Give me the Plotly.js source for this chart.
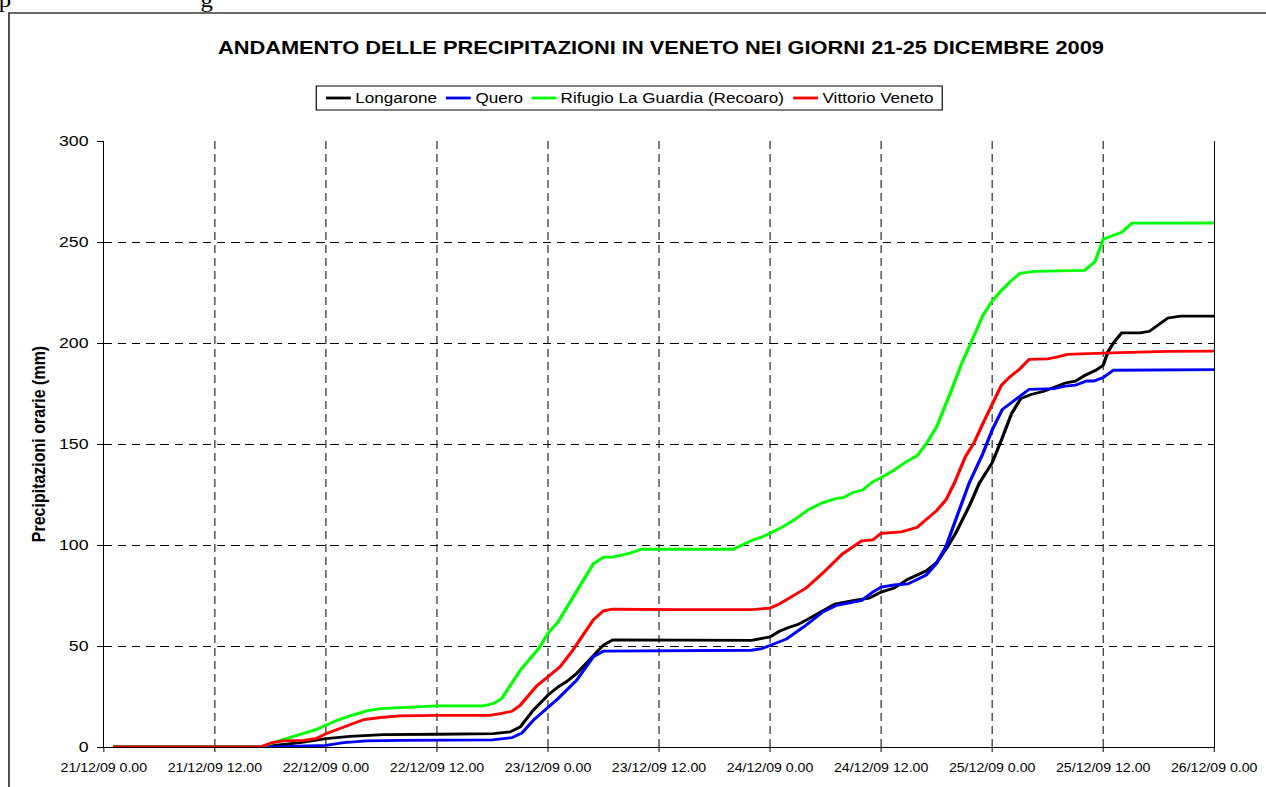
<!DOCTYPE html>
<html>
<head>
<meta charset="utf-8">
<script src="https://cdn.plot.ly/plotly-3.0.1.min.js"></script>
<style>
  html, body { margin: 0; padding: 0; background: #ffffff; overflow: hidden; }
  #wrap { position: absolute; left: 0; top: 0; width: 1073px; height: 787px; transform: scaleX(1.18); transform-origin: 0 0; }
  #chart { width: 1073px; height: 787px; }
</style>
</head>
<body>
<div id="wrap"><div id="chart"></div></div>
<script>
// ---- data (hours from 21/12/09 0.00, cumulative mm) ----
const tickHours = [0, 12, 24, 36, 48, 60, 72, 84, 96, 108, 120];
const tickLabels = ['21/12/09 0.00', '21/12/09 12.00', '22/12/09 0.00', '22/12/09 12.00', '23/12/09 0.00',
  '23/12/09 12.00', '24/12/09 0.00', '24/12/09 12.00', '25/12/09 0.00', '25/12/09 12.00', '26/12/09 0.00'];

const longaroneHours = [1, 17, 21.2, 24, 26.6, 30.2, 36, 42.1, 43.9, 45, 46.4, 48, 49.1, 50, 51.1, 52.9, 54, 55, 62, 70,
  72, 73, 74, 75, 76.1, 77.7, 79, 81.1, 82.7, 84, 85.4, 86.9, 88.9, 90, 91.2, 92.1, 93.5, 94.6, 96, 97, 98.1, 99.1,
  100.2, 101.6, 102.7, 103.9, 105, 106, 107.2, 108, 108.5, 109.1, 110, 112, 113, 115, 116.4, 120];
const longaroneMm = [0, 0, 2.2, 4.1, 5.3, 6.1, 6.3, 6.6, 7.5, 9.9, 18.2, 25.7, 29.8, 32.3, 36.4, 45.5, 50.5, 53, 52.8, 52.8,
  54.5, 57.3, 59.2, 60.6, 63.3, 67.6, 70.8, 72.6, 73.7, 76.7, 78.7, 83.1, 87.2, 91.3, 99.2, 106.2, 119, 130.5, 140.7, 151.9, 165.1, 172.5,
  174.5, 176.1, 177.9, 180.2, 181.1, 183.9, 186.5, 189, 195.5, 200, 205, 205, 205.8, 212.4, 213.3, 213.3];

const queroHours = [1, 19, 21, 24, 25.9, 28.4, 32, 42, 44.1, 45.2, 46.4, 48, 49.1, 51.1, 52.9, 54, 62, 70, 71.1,
  72, 73.8, 75.7, 77.7, 79.2, 81.9, 83.1, 84, 85.4, 86.9, 88.9, 90, 91, 92.1, 93.5, 95, 96, 97.1, 98.9, 100,
  102.7, 103.9, 105, 106.2, 107, 108, 109.1, 120];
const queroMm = [0, 0, 0.4, 0.8, 2.2, 3, 3.3, 3.5, 4.6, 7, 13.2, 19.9, 24, 33.1, 44.7, 47.5, 47.6, 47.9, 48.7,
  50.2, 53.5, 59.7, 66.8, 70.1, 72.6, 76.7, 79.2, 80.2, 80.7, 85.2, 91, 99.2, 113.2, 130.5, 145.3, 156.9, 167.1, 173.3, 177.1,
  177.4, 178.6, 179.1, 181.2, 181.2, 182.9, 186.5, 186.8];

const guardiaHours = [1, 16.9, 19.1, 21.2, 22.9, 24, 25.2, 26.6, 28.4, 29.9, 36, 41, 42.1, 43, 45, 47, 48, 49.1, 50.4, 51.6,
  52.9, 54, 55, 56.9, 58.1, 62, 68, 70, 71.1, 72, 73.4, 74.6, 76.1, 77.7, 79.2, 80, 80.9, 82, 83.1, 84, 85.4, 86.7,
  87.9, 88.9, 90, 91.6, 92.7, 93.9, 95, 96, 97, 98.1, 99, 100.6, 106, 107.1, 108, 108.9, 110, 111.1, 120];
const guardiaMm = [0, 0, 3.3, 6.1, 8.6, 10.8, 13.2, 15.4, 17.9, 19, 20.4, 20.4, 21.5, 24, 38, 48.8, 56.3, 62, 72, 81,
  90.7, 94, 94, 96, 98, 97.9, 97.9, 102.2, 103.9, 105.8, 109.1, 112.4, 117.4, 121, 123.1, 123.6, 125.9, 127.2, 131.3, 133.3, 137.1, 141.2,
  144.2, 150.3, 158.5, 176.6, 189.8, 202.1, 213.7, 220.7, 226, 231, 234.5, 235.5, 236, 240.2, 251.3, 253, 254.8, 259.3, 259.4];

const vittorioHours = [1, 16.9, 18.2, 19.4, 21.6, 22.9, 24, 25.9, 28.1, 29.9, 32, 36, 41.7, 43, 44.1, 45, 46.8, 48, 49.3,
  50.7, 52.9, 54, 55, 62, 70, 72, 73, 74.2, 75.9, 77.7, 79.8, 81.9, 83.1, 84, 86.2, 87.9, 90, 91, 91.9, 93.1, 94.1,
  95, 96, 97, 97.9, 98.9, 100, 102, 103.1, 104.1, 108, 114.8, 120];
const vittorioMm = [0, 0, 2.2, 3, 3.3, 4.1, 6.6, 9.9, 13.6, 14.6, 15.4, 15.7, 15.7, 16.6, 17.7, 20.7, 30.3, 34.8, 39.7,
  48, 63, 67.4, 68.2, 68, 68, 68.8, 70.8, 74.1, 78.7, 86.1, 95.5, 102, 102.5, 105.8, 106.5, 108.8, 117, 122.3, 130.5, 143.7, 151.1,
  160.2, 169.2, 179.1, 183.2, 186.8, 191.9, 192.1, 193.1, 194.4, 195, 195.9, 196];

const seriesNames = ['Longarone', 'Quero', 'Rifugio La Guardia (Recoaro)', 'Vittorio Veneto'];
const seriesColors = ['#000000', '#0000ff', '#00ff00', '#ff0000'];
const seriesX = [longaroneHours, queroHours, guardiaHours, vittorioHours];
const seriesY = [longaroneMm, queroMm, guardiaMm, vittorioMm];

const FONT = '"Liberation Sans", Arial, sans-serif';
const W = 1073, H = 787, ML = 88, MR = 44, MT = 141, MB = 40;
const PW = W - ML - MR, PH = H - MT - MB;
const px2x = (X) => (X - ML) / PW;        // page px (unstretched) -> paper x
const px2y = (Y) => (H - MB - Y) / PH;    // page px -> paper y

const traces = seriesNames.map((n, i) => ({
  type: 'scatter', mode: 'lines', name: n,
  x: seriesX[i], y: seriesY[i],
  line: { color: seriesColors[i], width: 2.8, shape: 'linear' },
  showlegend: false
}));

// ---- legend drawn as a boxed row (line sample + label) ----
const LEG_FONT = 14.5;
const ctx = document.createElement('canvas').getContext('2d');
ctx.font = LEG_FONT + 'px "Liberation Sans", Arial';
const textW = seriesNames.map(n => ctx.measureText(n).width);
const boxL = 268, boxR = 798.5, boxT = 86, boxB = 110, rowY = 98;
const lineLen = 21, txtGap = 3;
const content = textW.reduce((a, w) => a + w + lineLen + txtGap, 0);
const seg = ((boxR - boxL) - content) / 5;
const shapes = [
  { type: 'rect', xref: 'paper', yref: 'paper', x0: px2x(7.6), x1: 1.2, y0: -0.3, y1: px2y(13),
    line: { color: '#3a3a3a', width: 1.5 }, fillcolor: 'rgba(0,0,0,0)', layer: 'below' },
  { type: 'rect', xref: 'paper', yref: 'paper', x0: px2x(boxL), x1: px2x(boxR), y0: px2y(boxB), y1: px2y(boxT),
    line: { color: '#000000', width: 1 }, fillcolor: '#ffffff' }
];
const annotations = [];
let cx = boxL + seg;
seriesNames.forEach((n, i) => {
  shapes.push({ type: 'line', xref: 'paper', yref: 'paper', x0: px2x(cx), x1: px2x(cx + lineLen),
    y0: px2y(rowY), y1: px2y(rowY), line: { color: seriesColors[i], width: 2.8 } });
  annotations.push({ xref: 'paper', yref: 'paper', x: px2x(cx + lineLen + txtGap), y: px2y(rowY),
    xanchor: 'left', yanchor: 'middle', showarrow: false, borderpad: 0, text: n,
    font: { family: FONT, size: LEG_FONT, color: '#000000' } });
  cx += lineLen + txtGap + textW[i] + seg;
});
// cropped document text fragments above the chart frame
annotations.push(
  { xref: 'paper', yref: 'paper', x: px2x(-2), y: px2y(-13), xanchor: 'left', yanchor: 'top', showarrow: false, borderpad: 0,
    text: 'p', font: { family: '"Liberation Serif", "Times New Roman", serif', size: 21, color: '#000000' } },
  { xref: 'paper', yref: 'paper', x: px2x(169), y: px2y(-13), xanchor: 'left', yanchor: 'top', showarrow: false, borderpad: 0,
    text: 'g', font: { family: '"Liberation Serif", "Times New Roman", serif', size: 21, color: '#000000' } }
);

const layout = {
  width: W, height: H,
  margin: { l: ML, r: MR, t: MT, b: MB, pad: 0 },
  paper_bgcolor: '#ffffff', plot_bgcolor: '#ffffff',
  font: { family: FONT, color: '#000000' },
  title: {
    text: 'ANDAMENTO DELLE PRECIPITAZIONI IN VENETO NEI GIORNI 21-25 DICEMBRE 2009',
    font: { family: FONT, size: 18.5, weight: 'bold', color: '#000000' },
    xref: 'container', x: 0.522, xanchor: 'center',
    yref: 'container', y: 0.939, yanchor: 'middle'
  },
  showlegend: false,
  xaxis: {
    range: [0, 120], tickmode: 'array', tickvals: tickHours, ticktext: tickLabels,
    tickfont: { family: FONT, size: 12, color: '#000000' },
    ticks: 'outside', ticklen: 4, tickcolor: '#000000', tickwidth: 0.85,
    showline: true, linecolor: '#000000', linewidth: 1,
    showgrid: true, gridcolor: '#000000', gridwidth: 0.85, griddash: '8px,5px',
    zeroline: false, fixedrange: true, ticklabelstandoff: 6
  },
  yaxis: {
    range: [0, 300], dtick: 50, tick0: 0,
    tickfont: { family: FONT, size: 15, color: '#000000' },
    ticks: 'outside', ticklen: 5, tickcolor: '#000000', tickwidth: 1,
    showline: true, mirror: true, linecolor: '#000000', linewidth: 1,
    showgrid: true, gridcolor: '#000000', gridwidth: 1, griddash: '7px,5px',
    zeroline: false, fixedrange: true, ticklabelstandoff: 4,
    title: { text: 'Precipitazioni orarie (mm)', font: { family: FONT, size: 16, weight: 'bold', color: '#000000' }, standoff: 7 }
  },
  shapes: shapes,
  annotations: annotations
};

Plotly.newPlot('chart', traces, layout, { displayModeBar: false, staticPlot: true });
</script>
</body>
</html>
